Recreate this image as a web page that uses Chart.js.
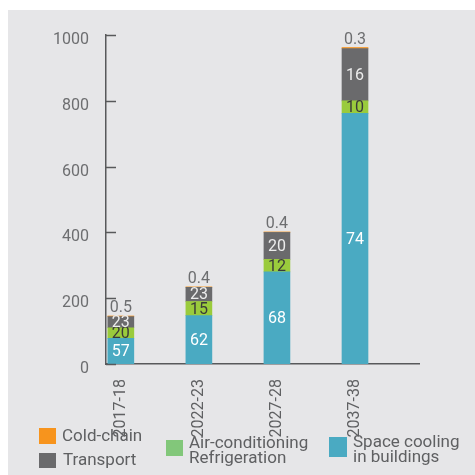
<!DOCTYPE html>
<html>
<head>
<meta charset="utf-8">
<script src="https://cdn.jsdelivr.net/npm/chart.js@4.4.1/dist/chart.umd.min.js"></script>
<style>
  html, body { margin: 0; padding: 0; background: #fff; }
  #wrap { position: relative; width: 475px; height: 475px; overflow: hidden; }
  #panel { position: absolute; left: 8px; top: 10px; right: 0; bottom: 0; background: #e6e6e8; }
  #chart-area { position: absolute; left: 0; top: 0; }
  .lg-text { position: absolute; font-family: Roboto, sans-serif; font-size: 17px; color: #5f6062; line-height: 15px; white-space: pre; }
  .lg-box { position: absolute; }
</style>
</head>
<body>
<div id="wrap">
  <div id="panel"></div>
  <canvas id="chart-area" width="475" height="475"></canvas>
  <div id="legend"></div>
</div>
<script>
// values (y-axis units), bottom segment first
var years = ["2017-18", "2022-23", "2027-28", "2037-38"];
var spaceCooling = [78, 147, 280, 762];
var airConditioning = [32, 43, 38, 38];
var transport = [34, 43, 82, 159];
var coldChain = [2, 1.5, 1.5, 3];

// percentage labels printed on the bars
var spacePct = ["57", "62", "68", "74"];
var airPct = ["20", "15", "12", "10"];
var transportPct = ["23", "23", "20", "16"];
var coldPct = ["0.5", "0.4", "0.4", "0.3"];

var yTicks = [0, 200, 400, 600, 800, 1000];

function pts(arr) {
  return arr.map(function(v, i) { return { x: i, y: v }; });
}

var datasets = [
  { label: "Space cooling\nin buildings", data: pts(spaceCooling), backgroundColor: "#4aaac2", pct: spacePct, txt: "#ffffff", legendColor: "#4aaac2" },
  { label: "Air-conditioning\nRefrigeration", data: pts(airConditioning), backgroundColor: "#9acb3c", pct: airPct, txt: "#3a3a3a", legendColor: "#82c77a" },
  { label: "Transport", data: pts(transport), backgroundColor: "#6a6a6c", pct: transportPct, txt: "#ececec", legendColor: "#6a6a6c" },
  { label: "Cold-chain", data: pts(coldChain), backgroundColor: "#f7941d", pct: coldPct, txt: "#6d6e70", legendColor: "#f7941d", top: true }
];

var extras = {
  id: "extras",
  afterDatasetsDraw: function(chart) {
    var ctx = chart.ctx;
    var ys = chart.scales.y;
    ctx.save();
    // short inward tick marks on the y axis
    ctx.strokeStyle = "#58595b";
    ctx.lineWidth = 1.5;
    yTicks.forEach(function(t) {
      var py = Math.round(ys.getPixelForValue(t)) + 0.5;
      ctx.beginPath();
      ctx.moveTo(ys.right, py);
      ctx.lineTo(ys.right + 10, py);
      ctx.stroke();
    });
    // percentage labels
    ctx.font = "16px Roboto, sans-serif";
    ctx.textAlign = "center";
    chart.data.datasets.forEach(function(ds, d) {
      var meta = chart.getDatasetMeta(d);
      meta.data.forEach(function(el, j) {
        ctx.fillStyle = ds.txt;
        if (ds.top) {
          ctx.textBaseline = "bottom";
          ctx.fillText(ds.pct[j], el.x, el.y);
        } else {
          ctx.textBaseline = "middle";
          ctx.fillText(ds.pct[j], el.x, (el.y + el.base) / 2 + 1);
        }
      });
    });
    ctx.restore();
  }
};

var ctx = document.getElementById("chart-area").getContext("2d");
var myChart = new Chart(ctx, {
  type: "bar",
  data: { datasets: datasets },
  options: {
    responsive: false,
    animation: false,
    barThickness: 26,
    layout: { padding: { top: 35, right: 56, left: 0, bottom: 0 } },
    plugins: { legend: { display: false }, tooltip: { enabled: false } },
    scales: {
      x: {
        type: "linear",
        stacked: true,
        offset: false,
        min: -0.19,
        max: 3.82,
        afterBuildTicks: function(s) {
          s.ticks = years.map(function(y, i) { return { value: i }; });
        },
        afterFit: function(s) { s.height = 111; },
        grid: { display: false, offset: false },
        border: { display: true, color: "#58595b", width: 1.5 },
        ticks: {
          autoSkip: false,
          minRotation: 90,
          maxRotation: 90,
          padding: 7,
          color: "#5f6062",
          font: { family: "'Liberation Sans Narrow', Roboto, sans-serif", size: 16 },
          callback: function(v) { return years[v]; }
        }
      },
      y: {
        stacked: true,
        min: 0,
        max: 1000,
        afterFit: function(s) { s.width = 106; },
        afterBuildTicks: function(s) {
          s.ticks = yTicks.map(function(v) { return { value: v }; });
        },
        grid: { display: false },
        border: { display: true, color: "#58595b", width: 1.5 },
        ticks: {
          padding: 9,
          labelOffset: 5,
          color: "#6d6e70",
          font: { family: "Roboto, sans-serif", size: 16 },
          callback: function(v) { return String(v); }
        }
      }
    }
  },
  plugins: [extras]
});

// legend, laid out like the reference (three columns)
var legendSpots = [
  { box: [329, 437, 18, 20], text: [353, 434] },
  { box: [166, 440, 17, 16], text: [189, 435] },
  { box: [39, 453, 17, 15], text: [63, 452] },
  { box: [39, 428, 17, 16], text: [62, 428] }
];
var legendEl = document.getElementById("legend");
datasets.forEach(function(ds, i) {
  var s = legendSpots[i];
  var b = document.createElement("div");
  b.className = "lg-box";
  b.style.left = s.box[0] + "px";
  b.style.top = s.box[1] + "px";
  b.style.width = s.box[2] + "px";
  b.style.height = s.box[3] + "px";
  b.style.background = ds.legendColor;
  legendEl.appendChild(b);
  var t = document.createElement("div");
  t.className = "lg-text";
  t.style.left = s.text[0] + "px";
  t.style.top = s.text[1] + "px";
  t.textContent = ds.label;
  legendEl.appendChild(t);
});
</script>
</body>
</html>
